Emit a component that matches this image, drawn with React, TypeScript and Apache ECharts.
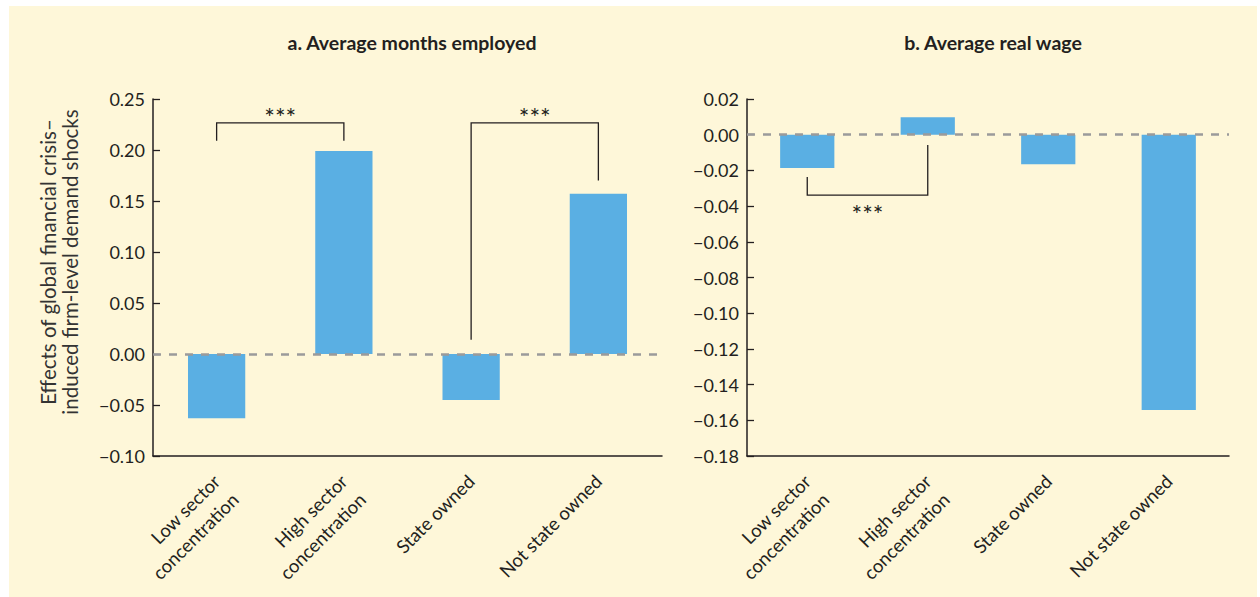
import React, { useEffect, useRef } from "react";
import * as echarts from "echarts";

const categories = [
  "Low sector\nconcentration",
  "High sector\nconcentration",
  "State owned",
  "Not state owned",
];
const monthsEmployed = [-0.063, 0.199, -0.045, 0.157];
const realWage = [-0.0187, 0.0098, -0.0165, -0.1542];

// [min, max, interval]
const monthsAxis = [-0.1, 0.25, 0.05];
const wageAxis = [-0.18, 0.02, 0.02];

// [fromCategory, toCategory, barLevel, leftLegEnd, rightLegEnd, starsLevel]
const monthsBrackets = [
  [0, 1, 0.2265, 0.209, 0.209, 0.2325],
  [2, 3, 0.2265, 0.014, 0.17, 0.2325],
];
const wageBrackets = [[0, 1, -0.0338, -0.0237, -0.0058, -0.0444]];

const titles = ["a. Average months employed", "b. Average real wage"];
const yName = "Effects of global financial crisis–\ninduced firm-level demand shocks";

const FONT = "Lato";
const INK = "#231f20";
const BAR = "#5aafe3";
const BG = "#fef7d9";
const LABEL_LH = 26;

const fmt = (v: number) => {
  const s = Math.abs(v).toFixed(2);
  return v < -1e-9 ? "\u2212" + s : s;
};

// keep the first line of every rotated label on the tick anchor:
// a two-line label gets one empty leading line so its first line sits in the middle
const labelFormatter = (v: string) => {
  const n = v.split("\n").length;
  return n > 1 ? "\n".repeat(n - 1) + v : v;
};

const bracketRender = (params: any, api: any) => {
  const a = api.value(0);
  const b = api.value(1);
  const l0 = api.coord([a, api.value(3)]);
  const l1 = api.coord([a, api.value(2)]);
  const r1 = api.coord([b, api.value(2)]);
  const r0 = api.coord([b, api.value(4)]);
  const t = api.coord([a, api.value(5)]);
  return {
    type: "group",
    children: [
      {
        type: "polyline",
        shape: { points: [l0, l1, r1, r0] },
        style: { stroke: INK, lineWidth: 1.3, fill: null },
      },
      {
        type: "text",
        x: (l1[0] + r1[0]) / 2,
        y: t[1],
        style: {
          text: "***",
          fill: INK,
          fontSize: 25,
          fontFamily: FONT,
          align: "center",
          verticalAlign: "middle",
          textAlign: "center",
          textVerticalAlign: "middle",
        },
      },
    ],
  };
};

export default function App() {
  const ref = useRef<HTMLDivElement>(null);
  useEffect(() => {
    if (!ref.current) return;
    const chart = echarts.init(ref.current, undefined, { renderer: "svg" });
    const xAxisBase = (gridIndex: number) => ({
      type: "category",
      gridIndex,
      data: categories,
      axisLine: { onZero: false, lineStyle: { color: INK, width: 1.5 } },
      axisTick: { inside: true, length: 7, lineStyle: { color: INK, width: 1.3 } },
      axisLabel: {
        interval: 0,
        rotate: 45,
        margin: 22,
        color: INK,
        fontSize: 18.5,
        lineHeight: LABEL_LH,
        fontFamily: FONT,
        formatter: labelFormatter,
      },
      splitLine: { show: false },
    });
    const yAxisBase = (gridIndex: number, r: number[]) => ({
      type: "value",
      gridIndex,
      min: r[0],
      max: r[1],
      interval: r[2],
      axisLine: { show: true, lineStyle: { color: INK, width: 1.5 } },
      axisTick: { show: true, inside: true, length: 7, lineStyle: { color: INK, width: 1.3 } },
      axisLabel: {
        color: INK,
        fontSize: 18,
        fontFamily: FONT,
        margin: 8,
        formatter: fmt,
      },
      splitLine: { show: false },
    });
    const zeroLine = {
      silent: true,
      symbol: "none",
      label: { show: false },
      lineStyle: { color: "#9b9b9b", type: [8, 8], width: 2.6 },
      data: [{ yAxis: 0 }],
    };
    const titleStyle = { fontFamily: FONT, fontSize: 19.5, fontWeight: "bold", color: INK };
    chart.setOption({
      animation: false,
      backgroundColor: "transparent",
      title: [
        { text: titles[0], left: 407, top: 27, textAlign: "center", textStyle: titleStyle },
        { text: titles[1], left: 988, top: 27, textAlign: "center", textStyle: titleStyle },
      ],
      grid: [
        { left: 153, top: 99, width: 509, height: 357 },
        { left: 747, top: 99, width: 482, height: 357 },
      ],
      xAxis: [xAxisBase(0), xAxisBase(1)],
      yAxis: [yAxisBase(0, monthsAxis), yAxisBase(1, wageAxis)],
      graphic: [
        {
          type: "text",
          x: 59,
          y: 262,
          rotation: Math.PI / 2,
          style: {
            text: yName,
            fill: "#333",
            fontSize: 20.5,
            lineHeight: 22,
            fontFamily: FONT,
            align: "center",
            verticalAlign: "middle",
          },
        },
      ],
      series: [
        {
          type: "bar",
          xAxisIndex: 0,
          yAxisIndex: 0,
          data: monthsEmployed,
          barWidth: "45%",
          itemStyle: { color: BAR },
          markLine: zeroLine,
        },
        {
          type: "bar",
          xAxisIndex: 1,
          yAxisIndex: 1,
          data: realWage,
          barWidth: "45%",
          itemStyle: { color: BAR },
          markLine: zeroLine,
        },
        {
          type: "custom",
          xAxisIndex: 0,
          yAxisIndex: 0,
          data: monthsBrackets,
          encode: { x: [0, 1], y: [2, 3, 4, 5] },
          renderItem: bracketRender,
          silent: true,
          z: 5,
        },
        {
          type: "custom",
          xAxisIndex: 1,
          yAxisIndex: 1,
          data: wageBrackets,
          encode: { x: [0, 1], y: [2, 3, 4, 5] },
          renderItem: bracketRender,
          silent: true,
          z: 5,
        },
      ],
    });
    return () => chart.dispose();
  }, []);
  return (
    <div style={{ position: "fixed", left: 0, top: 0, width: 1260, height: 597, background: "#fff" }}>
      <div style={{ position: "absolute", left: 9, top: 6, width: 1248, height: 591, background: BG }} />
      <div ref={ref} style={{ position: "absolute", left: 0, top: 0, width: 1260, height: 597 }} />
    </div>
  );
}
